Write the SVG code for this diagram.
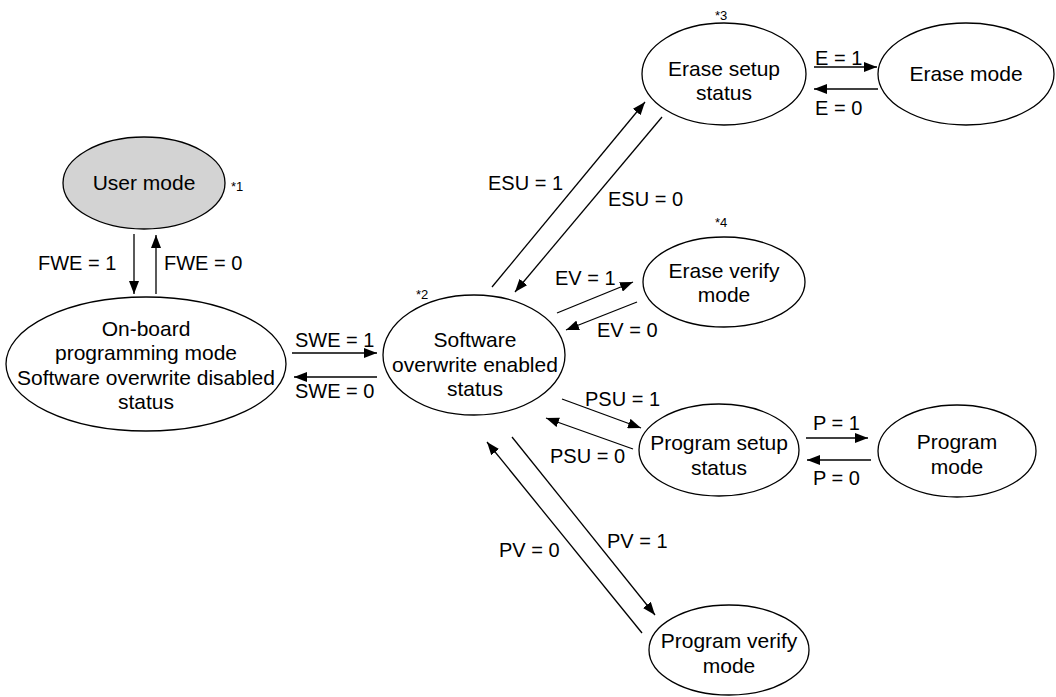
<svg xmlns="http://www.w3.org/2000/svg" width="1056" height="697" viewBox="0 0 1056 697">
<style>
.n{fill:#fff;stroke:#000;stroke-width:1.3}
.g{fill:#d3d3d3;stroke:#000;stroke-width:1.3}
text{font-family:"Liberation Sans",Arial,sans-serif;font-size:20px;fill:#000}
.c{text-anchor:middle;font-size:21px}
.s{font-size:13px}
.e line{stroke:#000;stroke-width:1.3;marker-end:url(#a)}
</style>
<defs>
<marker id="a" markerUnits="userSpaceOnUse" markerWidth="13" markerHeight="10" refX="13" refY="5" orient="auto">
<path d="M0,0 L13,5 L0,10 z" fill="#000"/>
</marker>
</defs>
<rect width="1056" height="697" fill="#fff"/>
<g id="user">
<ellipse class="g" cx="144" cy="183" rx="81" ry="46"/>
<text class="c" x="144" y="190">User mode</text>
<text class="s" x="231" y="191">*1</text>
</g>
<g id="onboard">
<ellipse class="n" cx="146" cy="364" rx="140" ry="67"/>
<text class="c" x="146" y="336">On-board</text>
<text class="c" x="146" y="360">programming mode</text>
<text class="c" x="146" y="385">Software overwrite disabled</text>
<text class="c" x="146" y="409">status</text>
</g>
<g id="swenabled">
<ellipse class="n" cx="474" cy="355" rx="91" ry="60"/>
<text class="c" x="475" y="347">Software</text>
<text class="c" x="475" y="372">overwrite enabled</text>
<text class="c" x="475" y="396">status</text>
<text class="s" x="416" y="299">*2</text>
</g>
<g id="erasesetup">
<ellipse class="n" cx="724" cy="74" rx="82" ry="51"/>
<text class="c" x="724" y="76">Erase setup</text>
<text class="c" x="724" y="100">status</text>
<text class="s" x="715" y="20">*3</text>
</g>
<g id="erasemode">
<ellipse class="n" cx="966" cy="74" rx="88" ry="51"/>
<text class="c" x="966" y="81">Erase mode</text>
</g>
<g id="eraseverify">
<ellipse class="n" cx="724" cy="282" rx="81" ry="45"/>
<text class="c" x="724" y="278">Erase verify</text>
<text class="c" x="724" y="302">mode</text>
<text class="s" x="715" y="227">*4</text>
</g>
<g id="progsetup">
<ellipse class="n" cx="719" cy="450" rx="80" ry="46"/>
<text class="c" x="719" y="450">Program setup</text>
<text class="c" x="719" y="475">status</text>
</g>
<g id="progmode">
<ellipse class="n" cx="957" cy="451" rx="79" ry="46"/>
<text class="c" x="957" y="449">Program</text>
<text class="c" x="957" y="474">mode</text>
</g>
<g id="progverify">
<ellipse class="n" cx="729" cy="650" rx="80" ry="45"/>
<text class="c" x="729" y="648">Program verify</text>
<text class="c" x="729" y="673">mode</text>
</g>
<g id="connectors" class="e">
<line x1="134" y1="234" x2="134" y2="294"/>
<line x1="156" y1="294" x2="156" y2="235"/>
<line x1="292" y1="353" x2="377" y2="353"/>
<line x1="377" y1="377" x2="294" y2="377"/>
<line x1="492" y1="287" x2="645" y2="102"/>
<line x1="662" y1="117" x2="515" y2="292"/>
<line x1="557" y1="313" x2="633" y2="282"/>
<line x1="637" y1="302" x2="566" y2="330"/>
<line x1="562" y1="399" x2="641" y2="428"/>
<line x1="633" y1="449" x2="546" y2="418"/>
<line x1="806" y1="438" x2="868" y2="438"/>
<line x1="871" y1="460" x2="807" y2="460"/>
<line x1="814" y1="67" x2="877" y2="67"/>
<line x1="878" y1="89" x2="814" y2="89"/>
<line x1="512" y1="437" x2="655" y2="615"/>
<line x1="642" y1="633" x2="487" y2="442"/>
</g>
<g id="labels">
<text x="38" y="270">FWE = 1</text>
<text x="164" y="270">FWE = 0</text>
<text x="295" y="347">SWE = 1</text>
<text x="295" y="398">SWE = 0</text>
<text x="488" y="190">ESU = 1</text>
<text x="608" y="206">ESU = 0</text>
<text x="555" y="285">EV = 1</text>
<text x="597" y="337">EV = 0</text>
<text x="585" y="406">PSU = 1</text>
<text x="550" y="463">PSU = 0</text>
<text x="813" y="430">P = 1</text>
<text x="813" y="485">P = 0</text>
<text x="815" y="65">E = 1</text>
<text x="815" y="115">E = 0</text>
<text x="607" y="548">PV = 1</text>
<text x="499" y="557">PV = 0</text>
</g>
</svg>
